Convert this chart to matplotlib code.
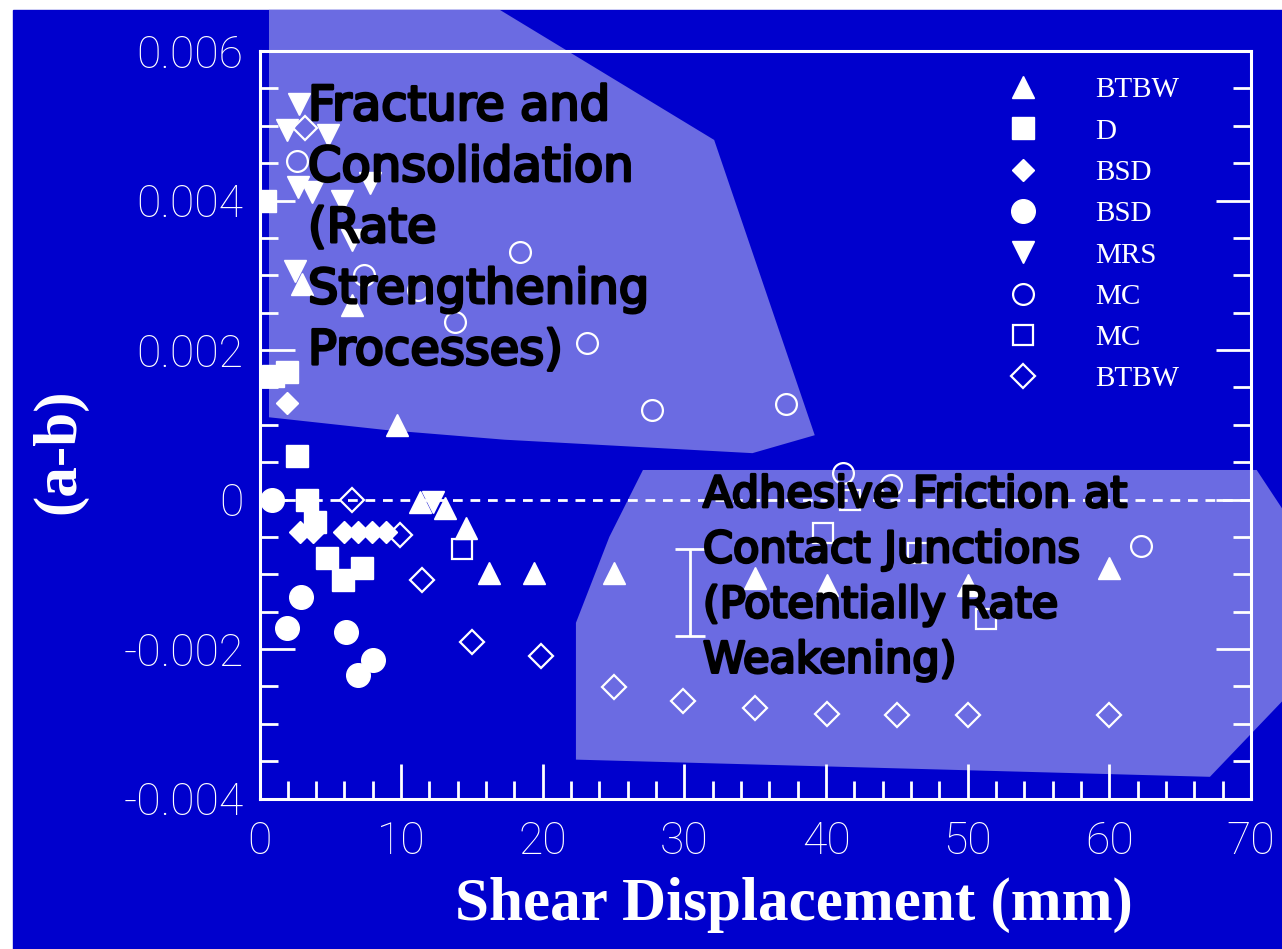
import matplotlib
matplotlib.use("Agg")
import matplotlib.pyplot as plt
import matplotlib.patheffects as pe
from matplotlib.lines import Line2D
from matplotlib.patches import Polygon, Rectangle
from matplotlib.ticker import MultipleLocator, FixedLocator, FixedFormatter

BG = "#0000cd"
ZONE = "#6b6be2"
WHITE = "white"

# ---- measurements: (a-b) versus shear displacement (mm) ----
btbw_x = [3.0, 6.5, 9.7, 11.3, 13.1, 14.6, 16.2, 19.4, 25.0, 35.0, 40.1, 50.0, 60.0]
btbw_y = [0.00288, 0.0026, 0.0010, -0.00003, -0.00011, -0.00038, -0.00098,
          -0.00098, -0.00098, -0.00105, -0.00114, -0.00115, -0.00092]

d_x = [0.4, 0.95, 1.95, 2.65, 3.35, 3.9, 4.8, 5.9, 7.25]
d_y = [0.0040, 0.00165, 0.0017, 0.00058, 0.0, -0.0003, -0.00078, -0.00108, -0.00092]

bsd1_x = [1.95, 2.85, 3.8, 6.0, 6.95, 7.95, 8.9]
bsd1_y = [0.00129, -0.00043, -0.00043, -0.00043, -0.00043, -0.00043, -0.00043]

bsd2_x = [0.9, 2.95, 1.95, 6.1, 6.95, 8.0]
bsd2_y = [0.0, -0.0013, -0.00172, -0.00177, -0.00235, -0.00215]

mrs_x = [2.8, 1.95, 4.85, 2.7, 3.7, 7.8, 5.8, 6.5, 2.5, 12.25]
mrs_y = [0.00529, 0.00494, 0.00488, 0.00418, 0.00411, 0.00423, 0.0040, 0.00347,
         0.00306, -0.00003]

mc1_x = [2.65, 7.4, 11.2, 13.8, 18.4, 23.1, 27.7, 37.2, 41.2, 44.6, 62.2]
mc1_y = [0.00453, 0.0030, 0.0028, 0.00237, 0.00331, 0.0021, 0.0012, 0.00128,
         0.00035, 0.00019, -0.00062]

mc2_x = [14.3, 39.8, 41.7, 46.5, 51.3]
mc2_y = [-0.00066, -0.00045, 0.0, -0.00072, -0.0016]

btbw2_x = [3.2, 6.5, 9.9, 11.5, 15.0, 19.9, 25.0, 29.9, 35.0, 40.1, 45.0, 50.0, 60.0]
btbw2_y = [0.00497, 0.0, -0.00047, -0.00108, -0.0019, -0.0021, -0.00251, -0.0027,
           -0.00279, -0.00287, -0.00288, -0.00288, -0.00288]

# representative uncertainty bar
err_x = [30.4]
err_y = [-0.00124]
err_half = [0.00058]

x_ticks = [0, 10, 20, 30, 40, 50, 60, 70]
x_tick_labels = ["0", "10", "20", "30", "40", "50", "60", "70"]
y_ticks = [-0.004, -0.002, 0.0, 0.002, 0.004, 0.006]
y_tick_labels = ["-0.004", "-0.002", "0", "0.002", "0.004", "0.006"]

legend_labels = ["BTBW", "D", "BSD", "BSD", "MRS", "MC", "MC", "BTBW"]

# interpretive zones, in data units
zone_strengthening = [(0.67, 0.00655), (16.97, 0.00655), (32.1, 0.00481),
                      (39.2, 0.00086), (34.8, 0.00062), (17.3, 0.0008),
                      (8.9, 0.00093), (0.67, 0.0011)]
zone_weakening = [(27.07, 0.000395), (70.4, 0.000395), (72.3, -0.00015),
                  (72.3, -0.00268), (67.1, -0.00371), (22.34, -0.00348),
                  (22.34, -0.00165), (24.7, -0.0005)]

W, H = 1282, 949
fig = plt.figure(figsize=(W / 100, H / 100), dpi=100, facecolor="white")
fig.patches.append(Rectangle((13 / W, 0), 1 - 13 / W, 1 - 10 / H,
                             transform=fig.transFigure, color=BG, zorder=-10))

ax = fig.add_axes([259.5 / W, 1 - 798.5 / H, (1251 - 259.5) / W, (798.5 - 51) / H])
ax.set_facecolor(BG)
ax.set_xlim(0, 70)
ax.set_ylim(-0.004, 0.006)

for verts in (zone_strengthening, zone_weakening):
    ax.add_patch(Polygon(verts, closed=True, facecolor=ZONE, edgecolor="none",
                         clip_on=False, zorder=0.5))

ax.axhline(0.0, color=WHITE, lw=2, ls=(0, (3.5, 2.8)), zorder=1)

filled = dict(ls="none", color=WHITE, mec=WHITE, mew=1, zorder=3)
hollow = dict(ls="none", mfc="none", mec=WHITE, mew=1.6, zorder=3)

ax.plot(btbw_x, btbw_y, marker="^", ms=16, **filled)
ax.plot(d_x, d_y, marker="s", ms=16, **filled)
ax.plot(bsd1_x, bsd1_y, marker="D", ms=11, **filled)
ax.plot(bsd2_x, bsd2_y, marker="o", ms=17, **filled)
ax.plot(mrs_x, mrs_y, marker="v", ms=16, **filled)
ax.plot(mc1_x, mc1_y, marker="o", ms=15, **hollow)
ax.plot(mc2_x, mc2_y, marker="s", ms=15, **hollow)
ax.plot(btbw2_x, btbw2_y, marker="D", ms=12, **hollow)

ax.errorbar(err_x, err_y, yerr=err_half, fmt="none", ecolor=WHITE,
            elinewidth=2, capsize=11, capthick=2, zorder=3)

# axes frame and ticks
for side in ("left", "right", "bottom", "top"):
    ax.spines[side].set_color(WHITE)
    ax.spines[side].set_linewidth(2.2)
    ax.spines[side].set_zorder(2)

ax.xaxis.set_major_locator(FixedLocator(x_ticks))
ax.xaxis.set_major_formatter(FixedFormatter(x_tick_labels))
ax.xaxis.set_minor_locator(MultipleLocator(2))
ax.yaxis.set_major_locator(FixedLocator(y_ticks))
ax.yaxis.set_major_formatter(FixedFormatter(y_tick_labels))
ax.yaxis.set_minor_locator(MultipleLocator(0.0005))

ax.tick_params(axis="both", which="both", direction="in", color=WHITE,
               width=2, top=False, right=True, left=True, bottom=True,
               labelcolor=WHITE)
ax.tick_params(axis="both", which="major", length=25)
ax.tick_params(axis="both", which="minor", length=13)
ax.tick_params(axis="y", which="major", pad=11.5)
ax.tick_params(axis="x", which="major", pad=16)

for lab in ax.get_xticklabels() + ax.get_yticklabels():
    lab.set_fontfamily("Roboto")
    lab.set_fontweight("light")
    lab.set_fontsize(32)

# axis titles
fig.text(794 / W, 1 - 905 / H, "Shear Displacement (mm)", color=WHITE,
         family="Liberation Serif", weight="bold", fontsize=44,
         ha="center", va="center")
fig.text(59 / W, 1 - 451 / H, "(a-b)", color=WHITE, family="Liberation Serif",
         weight="bold", fontsize=44, rotation=90, ha="center", va="center")

# legend
handles = [
    Line2D([], [], marker="^", ms=16, **filled),
    Line2D([], [], marker="s", ms=16, **filled),
    Line2D([], [], marker="D", ms=11, **filled),
    Line2D([], [], marker="o", ms=17, **filled),
    Line2D([], [], marker="v", ms=16, **filled),
    Line2D([], [], marker="o", ms=15, **hollow),
    Line2D([], [], marker="s", ms=15, **hollow),
    Line2D([], [], marker="D", ms=12, **hollow),
]
leg = ax.legend(handles, legend_labels, loc="upper left",
                bbox_to_anchor=(1008.4 / W, 1 - 77 / H),
                bbox_transform=fig.transFigure, frameon=False,
                prop=dict(family="Liberation Serif", size=21),
                labelcolor=WHITE, handlelength=1.0, handletextpad=1.97,
                labelspacing=0.51, borderpad=0, borderaxespad=0, numpoints=1)
leg.set_zorder(4)

# zone captions
stroke = [pe.withStroke(linewidth=2.0, foreground="black")]
fig.text(308 / W, 1 - 83 / H,
         "Fracture and\nConsolidation\n(Rate\nStrengthening\nProcesses)",
         color="black", family="DejaVu Sans", fontsize=34.5, ha="left", va="top",
         linespacing=1.38, path_effects=stroke, zorder=10)
fig.text(703 / W, 1 - 474 / H,
         "Adhesive Friction at\nContact Junctions\n(Potentially Rate\nWeakening)",
         color="black", family="DejaVu Sans", fontsize=31, ha="left", va="top",
         linespacing=1.40, path_effects=stroke, zorder=10)

fig.savefig("out.png", dpi=100, facecolor="white")
